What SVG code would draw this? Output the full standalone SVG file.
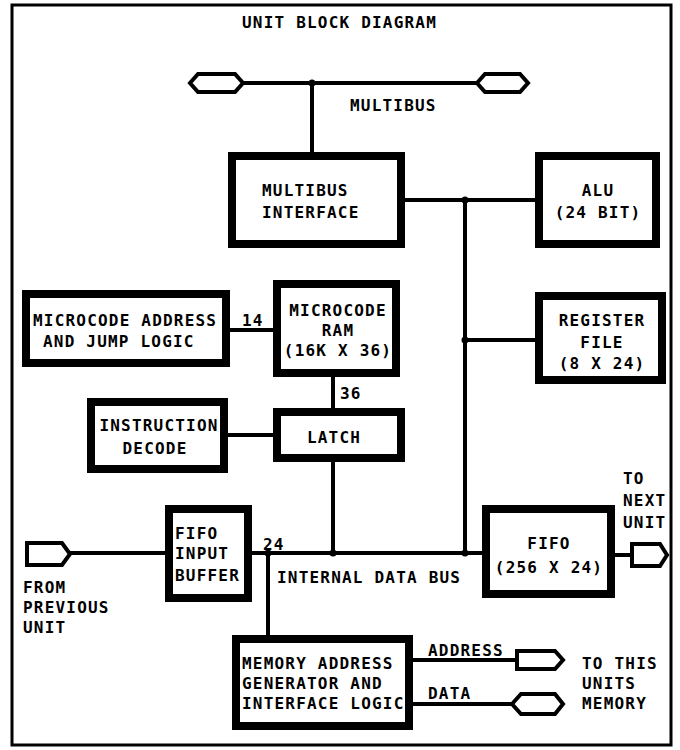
<svg xmlns="http://www.w3.org/2000/svg" width="680" height="750" viewBox="0 0 680 750">
<style>
.box{fill:#fff;stroke:#000;stroke-width:8}
.ln{fill:none;stroke:#000;stroke-width:4}
.pin{fill:#fff;stroke:#000;stroke-width:4;stroke-linejoin:miter}
text{font-family:"DejaVu Sans Mono","Liberation Mono",monospace;font-weight:bold;font-size:16px;letter-spacing:1.2px;fill:#000}
.c{text-anchor:middle}
</style>
<rect x="12" y="5" width="659" height="740" fill="#fff" stroke="#000" stroke-width="3"/>
<text x="242" y="28">UNIT BLOCK DIAGRAM</text>

<g id="connectors">
<line class="ln" x1="243" y1="83" x2="477" y2="83"/>
<line class="ln" x1="312" y1="83" x2="312" y2="152"/>
<line class="ln" x1="405" y1="200" x2="535" y2="200"/>
<line class="ln" x1="465" y1="200" x2="465" y2="553"/>
<line class="ln" x1="465" y1="340" x2="535" y2="340"/>
<line class="ln" x1="230" y1="330" x2="273" y2="330"/>
<line class="ln" x1="333" y1="377" x2="333" y2="408"/>
<line class="ln" x1="228" y1="435" x2="273" y2="435"/>
<line class="ln" x1="333" y1="462" x2="333" y2="553"/>
<line class="ln" x1="252" y1="553" x2="482" y2="553"/>
<line class="ln" x1="70" y1="553" x2="165" y2="553"/>
<line class="ln" x1="268" y1="553" x2="268" y2="635"/>
<line class="ln" x1="615" y1="555" x2="632" y2="555"/>
<line class="ln" x1="413" y1="660" x2="517" y2="660"/>
<line class="ln" x1="413" y1="704" x2="512" y2="704"/>
<circle cx="312" cy="83" r="3.5"/>
<circle cx="465" cy="200" r="3.5"/>
<circle cx="465" cy="340" r="3.5"/>
<circle cx="465" cy="553" r="3.5"/>
<circle cx="333" cy="553" r="3.5"/>
<circle cx="268" cy="553" r="3.5"/>
<polygon class="pin" points="190,83 198,74 235,74 243,83 235,92 198,92"/>
<polygon class="pin" points="477,83 485,74 520,74 528,83 520,92 485,92"/>
<polygon class="pin" points="27,543 62,543 70,554 62,565 27,565"/>
<polygon class="pin" points="632,544 660,544 667,555 660,566 632,566"/>
<polygon class="pin" points="517,651 555,651 563,660 555,669 517,669"/>
<polygon class="pin" points="512,704 521,694 555,694 563,704 555,714 521,714"/>
<text x="350" y="111">MULTIBUS</text>
<text x="242" y="326">14</text>
<text x="340" y="399">36</text>
<text x="263" y="550">24</text>
<text x="277" y="583">INTERNAL DATA BUS</text>
<text x="23" y="593">FROM</text>
<text x="23" y="613">PREVIOUS</text>
<text x="23" y="633">UNIT</text>
<text x="623" y="484">TO</text>
<text x="623" y="506">NEXT</text>
<text x="623" y="528">UNIT</text>
<text x="428" y="656">ADDRESS</text>
<text x="428" y="699">DATA</text>
<text x="582" y="669">TO THIS</text>
<text x="582" y="689">UNITS</text>
<text x="582" y="709">MEMORY</text>
</g>

<g id="multibus-interface">
<rect class="box" x="232" y="156" width="169" height="88"/>
<text x="262" y="196">MULTIBUS</text>
<text x="262" y="218">INTERFACE</text>
</g>
<g id="alu">
<rect class="box" x="539" y="156" width="117" height="88"/>
<text class="c" x="598" y="196">ALU</text>
<text class="c" x="598" y="218">(24 BIT)</text>
</g>
<g id="register-file">
<rect class="box" x="539" y="296" width="123" height="84"/>
<text class="c" x="602" y="326">REGISTER</text>
<text class="c" x="602" y="348">FILE</text>
<text class="c" x="602" y="369">(8 X 24)</text>
</g>
<g id="microcode-address">
<rect class="box" x="26" y="294" width="200" height="69"/>
<text x="33" y="326">MICROCODE ADDRESS</text>
<text x="43" y="347">AND JUMP LOGIC</text>
</g>
<g id="microcode-ram">
<rect class="box" x="277" y="284" width="119" height="89"/>
<text class="c" x="338" y="316">MICROCODE</text>
<text class="c" x="338" y="336">RAM</text>
<text class="c" x="338" y="356">(16K X 36)</text>
</g>
<g id="instruction-decode">
<rect class="box" x="91" y="402" width="133" height="67"/>
<text class="c" x="159" y="431">INSTRUCTION</text>
<text class="c" x="155" y="454">DECODE</text>
</g>
<g id="latch">
<rect class="box" x="277" y="412" width="124" height="46"/>
<text class="c" x="334" y="443">LATCH</text>
</g>
<g id="fifo-input-buffer">
<rect class="box" x="169" y="509" width="79" height="89"/>
<text x="175" y="539">FIFO</text>
<text x="175" y="559">INPUT</text>
<text x="175" y="581">BUFFER</text>
</g>
<g id="fifo">
<rect class="box" x="486" y="509" width="125" height="85"/>
<text class="c" x="549" y="549">FIFO</text>
<text class="c" x="549" y="573">(256 X 24)</text>
</g>
<g id="memory-address-generator">
<rect class="box" x="236" y="639" width="173" height="87"/>
<text x="242" y="669">MEMORY ADDRESS</text>
<text x="242" y="689">GENERATOR AND</text>
<text x="242" y="709">INTERFACE LOGIC</text>
</g>
</svg>
